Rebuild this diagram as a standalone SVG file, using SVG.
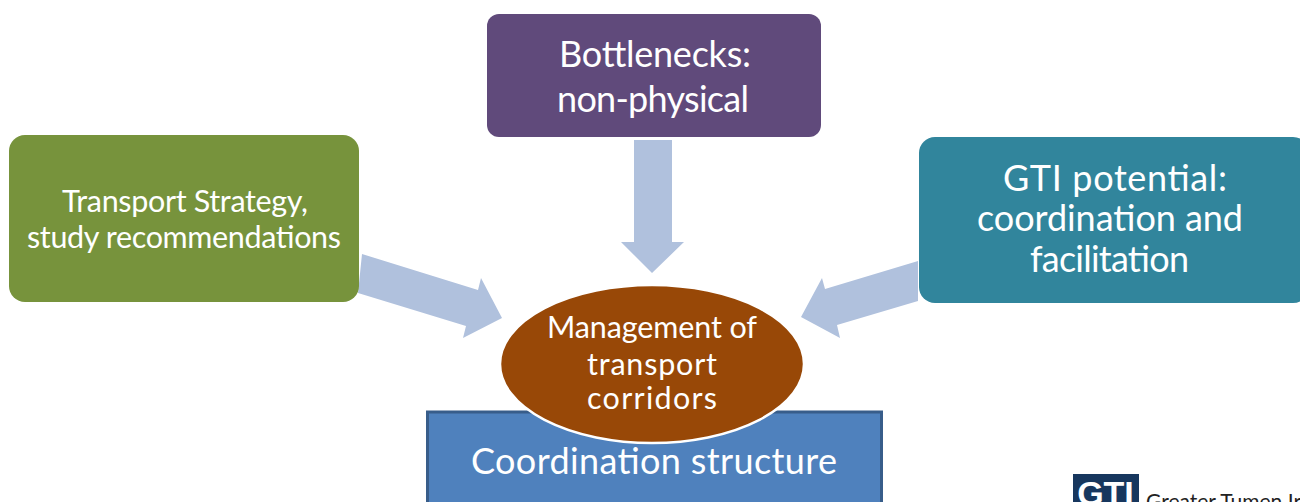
<svg xmlns="http://www.w3.org/2000/svg" width="1300" height="502" viewBox="0 0 1300 502">
<style>
text{font-family:"Lato","Open Sans",sans-serif;fill:#fff;text-anchor:middle}
.arrow{fill:#b0c1dd}
.big{font-size:36px}
.mid{font-size:30.5px}
.logo-name{fill:#222;text-anchor:start;font-size:21px}
</style>
<rect width="1300" height="502" fill="#fff"/>
<g id="connectors">
<polygon class="arrow" points="634,140 672,140 672,242 684,242 652,273 621,242 634,242"/>
<polygon class="arrow" points="362,254 478,290 481,278 502,318 463,338 466,326 358,293"/>
<polygon class="arrow" points="918,261 825,289 822,278 801,317 840,338 837,325 918,301"/>
</g>
<g id="coordination"><rect x="427.500" y="412" width="454" height="100" fill="#4f81bd" stroke="#385d8a" stroke-width="3"/><text x="654" y="474" class="big" textLength="366" lengthAdjust="spacing">Coordination structure</text></g>
<g id="management"><ellipse cx="652" cy="364" rx="152" ry="79" fill="#984807" stroke="#fff" stroke-width="2.500"/><text class="mid" x="652" y="338" textLength="210" lengthAdjust="spacing">Management of</text><text class="mid" x="652" y="375" textLength="130" lengthAdjust="spacing">transport</text><text class="mid" x="652" y="409" textLength="130" lengthAdjust="spacing">corridors</text></g>
<g id="bottlenecks"><rect x="487" y="14" width="334" height="123" rx="12" fill="#604a7b"/><text class="big" x="655" y="67" textLength="192" lengthAdjust="spacing">Bottlenecks:</text><text class="big" x="653" y="112" textLength="192" lengthAdjust="spacing">non-physical</text></g>
<g id="strategy"><rect x="9" y="135" width="350" height="167" rx="16" fill="#77933c"/><text class="mid" x="185" y="212" textLength="246" lengthAdjust="spacing">Transport Strategy,</text><text class="mid" x="184" y="248" textLength="314" lengthAdjust="spacing">study recommendations</text></g>
<g id="potential"><rect x="919" y="137" width="390" height="166" rx="16" fill="#31859c"/><text class="big" x="1115" y="191" textLength="224" lengthAdjust="spacing">GTI potential:</text><text class="big" x="1110" y="231" textLength="266" lengthAdjust="spacing">coordination and</text><text class="big" x="1109.500" y="272" textLength="159" lengthAdjust="spacing">facilitation</text></g>
<g id="logo"><rect x="1073" y="474" width="66" height="28" fill="#17375e"/><text x="1105.500" y="505" font-size="34" font-weight="700" style="font-family:'Liberation Sans',sans-serif">GTI</text><text x="1146" y="509" class="logo-name">Greater Tumen Ir</text></g>
</svg>
